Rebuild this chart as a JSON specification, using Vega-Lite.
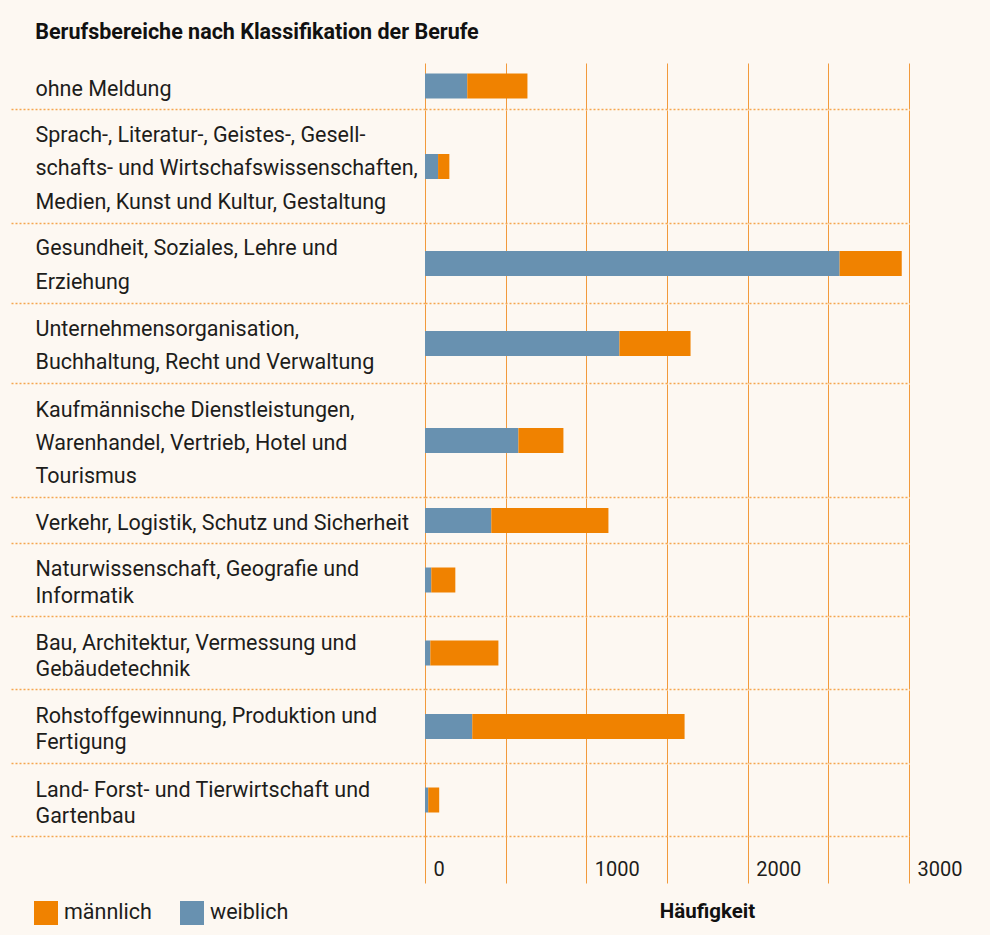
{
  "$schema": "https://vega.github.io/schema/vega-lite/v6.json",
  "background": "#fdf8f2",
  "padding": {"left": 9, "top": 21, "right": 30, "bottom": 15},
  "title": {"text": "Berufsbereiche nach Klassifikation der Berufe", "anchor": "start", "frame": "bounds", "dx": 26, "offset": 20, "font": "Roboto", "fontSize": 21.5, "fontWeight": "bold", "color": "#111111"},
  "spacing": 0,
  "data": {"values": [
    {"nr": 1, "kat": "ohne Meldung", "geschlecht": "weiblich", "anzahl": 262},
    {"nr": 1, "kat": "ohne Meldung", "geschlecht": "männlich", "anzahl": 373},
    {"nr": 2, "kat": "Sprach-, Literatur-, Geistes-, Gesell-\nschafts- und Wirtschafswissenschaften,\nMedien, Kunst und Kultur, Gestaltung", "geschlecht": "weiblich", "anzahl": 81},
    {"nr": 2, "kat": "Sprach-, Literatur-, Geistes-, Gesell-\nschafts- und Wirtschafswissenschaften,\nMedien, Kunst und Kultur, Gestaltung", "geschlecht": "männlich", "anzahl": 70},
    {"nr": 3, "kat": "Gesundheit, Soziales, Lehre und\nErziehung", "geschlecht": "weiblich", "anzahl": 2570},
    {"nr": 3, "kat": "Gesundheit, Soziales, Lehre und\nErziehung", "geschlecht": "männlich", "anzahl": 385},
    {"nr": 4, "kat": "Unternehmensorganisation,\nBuchhaltung, Recht und Verwaltung", "geschlecht": "weiblich", "anzahl": 1205},
    {"nr": 4, "kat": "Unternehmensorganisation,\nBuchhaltung, Recht und Verwaltung", "geschlecht": "männlich", "anzahl": 441},
    {"nr": 5, "kat": "Kaufmännische Dienstleistungen,\nWarenhandel, Vertrieb, Hotel und\nTourismus", "geschlecht": "weiblich", "anzahl": 579},
    {"nr": 5, "kat": "Kaufmännische Dienstleistungen,\nWarenhandel, Vertrieb, Hotel und\nTourismus", "geschlecht": "männlich", "anzahl": 279},
    {"nr": 6, "kat": "Verkehr, Logistik, Schutz und Sicherheit", "geschlecht": "weiblich", "anzahl": 411},
    {"nr": 6, "kat": "Verkehr, Logistik, Schutz und Sicherheit", "geschlecht": "männlich", "anzahl": 726},
    {"nr": 7, "kat": "Naturwissenschaft, Geografie und\nInformatik", "geschlecht": "weiblich", "anzahl": 39},
    {"nr": 7, "kat": "Naturwissenschaft, Geografie und\nInformatik", "geschlecht": "männlich", "anzahl": 149},
    {"nr": 8, "kat": "Bau, Architektur, Vermessung und\nGebäudetechnik", "geschlecht": "weiblich", "anzahl": 33},
    {"nr": 8, "kat": "Bau, Architektur, Vermessung und\nGebäudetechnik", "geschlecht": "männlich", "anzahl": 422},
    {"nr": 9, "kat": "Rohstoffgewinnung, Produktion und\nFertigung", "geschlecht": "weiblich", "anzahl": 293},
    {"nr": 9, "kat": "Rohstoffgewinnung, Produktion und\nFertigung", "geschlecht": "männlich", "anzahl": 1316},
    {"nr": 10, "kat": "Land- Forst- und Tierwirtschaft und\nGartenbau", "geschlecht": "weiblich", "anzahl": 20},
    {"nr": 10, "kat": "Land- Forst- und Tierwirtschaft und\nGartenbau", "geschlecht": "männlich", "anzahl": 68}
  ]},
  "config": {
    "view": {"stroke": null},
    "font": "Roboto",
    "axisY": {"title": null, "domain": false, "grid": false, "ticks": true, "tickSize": 415, "tickDash": [2, 2], "tickColor": "#f5a650", "tickWidth": 1.5, "bandPosition": 1, "labelAlign": "left", "labelBaseline": "middle", "labelPadding": -25, "labelLimit": 0, "labelFont": "Roboto", "labelFontSize": 21.5, "labelColor": "#1d1d1b", "labelFlush": false, "labelOverlap": false},
    "axisX": {"title": null, "grid": true, "gridColor": "#f29a3c", "gridWidth": 1, "labels": false, "ticks": false, "domain": true, "domainDash": [2, 2], "domainColor": "#f5a650", "domainWidth": 1.5},
    "bar": {"height": 25}
  },
  "vconcat": [
    {"height": 46, "width": 484, "transform": [{"filter": "datum.nr == 1"}], "mark": "bar",
     "encoding": {
      "y": {"field": "kat", "type": "nominal", "scale": {"paddingInner": 0, "paddingOuter": 0}, "axis": {"labelExpr": "split(datum.label, '\\n')", "labelLineHeight": 33, "labelOffset": 4}},
      "x": {"field": "anzahl", "type": "quantitative", "stack": "zero", "scale": {"domain": [0, 3000], "nice": false}, "axis": {"values": [0, 500, 1000, 1500, 2000, 2500, 3000]}},
      "color": {"field": "geschlecht", "type": "nominal", "scale": {"domain": ["männlich", "weiblich"], "range": ["#f08200", "#6891b0"]}, "legend": {"orient": "none", "legendX": -391, "legendY": 838, "direction": "horizontal", "title": null, "symbolType": "square", "symbolSize": 576, "symbolStrokeWidth": 0, "symbolOpacity": 1, "labelFont": "Roboto", "labelFontSize": 21.5, "labelColor": "#1d1d1b", "columnPadding": 28, "labelOffset": 6, "padding": 0}},
      "order": {"field": "geschlecht", "sort": "descending"}
     }},
    {"height": 113, "width": 484, "transform": [{"filter": "datum.nr == 2"}], "mark": "bar",
     "encoding": {
      "y": {"field": "kat", "type": "nominal", "scale": {"paddingInner": 0, "paddingOuter": 0}, "axis": {"labelExpr": "split(datum.label, '\\n')", "labelLineHeight": 33.5, "labelOffset": -31}},
      "x": {"field": "anzahl", "type": "quantitative", "stack": "zero", "scale": {"domain": [0, 3000], "nice": false}, "axis": {"values": [0, 500, 1000, 1500, 2000, 2500, 3000]}},
      "color": {"field": "geschlecht", "type": "nominal", "scale": {"domain": ["männlich", "weiblich"], "range": ["#f08200", "#6891b0"]}},
      "order": {"field": "geschlecht", "sort": "descending"}
     }},
    {"height": 79, "width": 484, "transform": [{"filter": "datum.nr == 3"}], "mark": "bar",
     "encoding": {
      "y": {"field": "kat", "type": "nominal", "scale": {"paddingInner": 0, "paddingOuter": 0}, "axis": {"labelExpr": "split(datum.label, '\\n')", "labelLineHeight": 34, "labelOffset": -14.5}},
      "x": {"field": "anzahl", "type": "quantitative", "stack": "zero", "scale": {"domain": [0, 3000], "nice": false}, "axis": {"values": [0, 500, 1000, 1500, 2000, 2500, 3000]}},
      "color": {"field": "geschlecht", "type": "nominal", "scale": {"domain": ["männlich", "weiblich"], "range": ["#f08200", "#6891b0"]}},
      "order": {"field": "geschlecht", "sort": "descending"}
     }},
    {"height": 79, "width": 484, "transform": [{"filter": "datum.nr == 4"}], "mark": "bar",
     "encoding": {
      "y": {"field": "kat", "type": "nominal", "scale": {"paddingInner": 0, "paddingOuter": 0}, "axis": {"labelExpr": "split(datum.label, '\\n')", "labelLineHeight": 33, "labelOffset": -14}},
      "x": {"field": "anzahl", "type": "quantitative", "stack": "zero", "scale": {"domain": [0, 3000], "nice": false}, "axis": {"values": [0, 500, 1000, 1500, 2000, 2500, 3000]}},
      "color": {"field": "geschlecht", "type": "nominal", "scale": {"domain": ["männlich", "weiblich"], "range": ["#f08200", "#6891b0"]}},
      "order": {"field": "geschlecht", "sort": "descending"}
     }},
    {"height": 113, "width": 484, "transform": [{"filter": "datum.nr == 5"}], "mark": "bar",
     "encoding": {
      "y": {"field": "kat", "type": "nominal", "scale": {"paddingInner": 0, "paddingOuter": 0}, "axis": {"labelExpr": "split(datum.label, '\\n')", "labelLineHeight": 33, "labelOffset": -30}},
      "x": {"field": "anzahl", "type": "quantitative", "stack": "zero", "scale": {"domain": [0, 3000], "nice": false}, "axis": {"values": [0, 500, 1000, 1500, 2000, 2500, 3000]}},
      "color": {"field": "geschlecht", "type": "nominal", "scale": {"domain": ["männlich", "weiblich"], "range": ["#f08200", "#6891b0"]}},
      "order": {"field": "geschlecht", "sort": "descending"}
     }},
    {"height": 45, "width": 484, "transform": [{"filter": "datum.nr == 6"}], "mark": "bar",
     "encoding": {
      "y": {"field": "kat", "type": "nominal", "scale": {"paddingInner": 0, "paddingOuter": 0}, "axis": {"labelExpr": "split(datum.label, '\\n')", "labelLineHeight": 33, "labelOffset": 3}},
      "x": {"field": "anzahl", "type": "quantitative", "stack": "zero", "scale": {"domain": [0, 3000], "nice": false}, "axis": {"values": [0, 500, 1000, 1500, 2000, 2500, 3000]}},
      "color": {"field": "geschlecht", "type": "nominal", "scale": {"domain": ["männlich", "weiblich"], "range": ["#f08200", "#6891b0"]}},
      "order": {"field": "geschlecht", "sort": "descending"}
     }},
    {"height": 72, "width": 484, "transform": [{"filter": "datum.nr == 7"}], "mark": "bar",
     "encoding": {
      "y": {"field": "kat", "type": "nominal", "scale": {"paddingInner": 0, "paddingOuter": 0}, "axis": {"labelExpr": "split(datum.label, '\\n')", "labelLineHeight": 27, "labelOffset": -10}},
      "x": {"field": "anzahl", "type": "quantitative", "stack": "zero", "scale": {"domain": [0, 3000], "nice": false}, "axis": {"values": [0, 500, 1000, 1500, 2000, 2500, 3000]}},
      "color": {"field": "geschlecht", "type": "nominal", "scale": {"domain": ["männlich", "weiblich"], "range": ["#f08200", "#6891b0"]}},
      "order": {"field": "geschlecht", "sort": "descending"}
     }},
    {"height": 72, "width": 484, "transform": [{"filter": "datum.nr == 8"}], "mark": "bar",
     "encoding": {
      "y": {"field": "kat", "type": "nominal", "scale": {"paddingInner": 0, "paddingOuter": 0}, "axis": {"labelExpr": "split(datum.label, '\\n')", "labelLineHeight": 26, "labelOffset": -9.5}},
      "x": {"field": "anzahl", "type": "quantitative", "stack": "zero", "scale": {"domain": [0, 3000], "nice": false}, "axis": {"values": [0, 500, 1000, 1500, 2000, 2500, 3000]}},
      "color": {"field": "geschlecht", "type": "nominal", "scale": {"domain": ["männlich", "weiblich"], "range": ["#f08200", "#6891b0"]}},
      "order": {"field": "geschlecht", "sort": "descending"}
     }},
    {"height": 73, "width": 484, "transform": [{"filter": "datum.nr == 9"}], "mark": "bar",
     "encoding": {
      "y": {"field": "kat", "type": "nominal", "scale": {"paddingInner": 0, "paddingOuter": 0}, "axis": {"labelExpr": "split(datum.label, '\\n')", "labelLineHeight": 26, "labelOffset": -9.5}},
      "x": {"field": "anzahl", "type": "quantitative", "stack": "zero", "scale": {"domain": [0, 3000], "nice": false}, "axis": {"values": [0, 500, 1000, 1500, 2000, 2500, 3000]}},
      "color": {"field": "geschlecht", "type": "nominal", "scale": {"domain": ["männlich", "weiblich"], "range": ["#f08200", "#6891b0"]}},
      "order": {"field": "geschlecht", "sort": "descending"}
     }},
    {"height": 72, "width": 484, "transform": [{"filter": "datum.nr == 10"}], "mark": "bar",
     "encoding": {
      "y": {"field": "kat", "type": "nominal", "scale": {"paddingInner": 0, "paddingOuter": 0}, "axis": {"labelExpr": "split(datum.label, '\\n')", "labelLineHeight": 26, "labelOffset": -9.5}},
      "x": {"field": "anzahl", "type": "quantitative", "stack": "zero", "scale": {"domain": [0, 3000], "nice": false}, "axis": {"values": [0, 500, 1000, 1500, 2000, 2500, 3000], "labels": true, "ticks": true, "tickSize": 47, "tickColor": "#f29a3c", "tickWidth": 1, "labelExpr": "datum.value % 1000 === 0 ? format(datum.value, 'd') : ''", "labelAlign": "left", "labelBaseline": "middle", "labelOffset": 8, "labelPadding": -14, "labelFont": "Roboto", "labelFontSize": 20, "labelColor": "#1d1d1b", "labelFlush": false, "labelOverlap": false, "title": "Häufigkeit", "titleFont": "Roboto", "titleFontSize": 20.5, "titleFontWeight": "bold", "titleColor": "#111111", "titleAlign": "center", "titleBaseline": "middle", "titleX": 282, "titleY": 75}},
      "color": {"field": "geschlecht", "type": "nominal", "scale": {"domain": ["männlich", "weiblich"], "range": ["#f08200", "#6891b0"]}},
      "order": {"field": "geschlecht", "sort": "descending"}
     }}
  ]
}
